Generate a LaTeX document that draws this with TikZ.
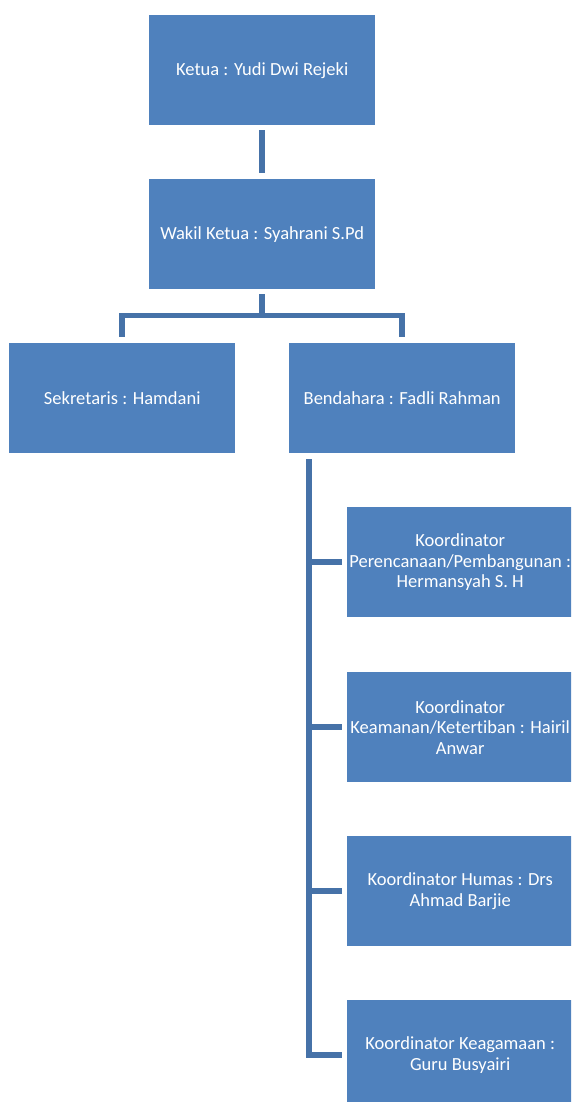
\documentclass[tikz,border=0pt]{standalone}
\usepackage{fontspec}
\setmainfont{Carlito}[Ligatures=CommonOff]
\definecolor{boxblue}{RGB}{79,129,189}
\definecolor{lineblue}{RGB}{70,114,168}
\tikzset{
    jabatan/.style={rectangle,fill=boxblue,text=white,minimum width=226pt,minimum height=110pt,
        inner sep=0pt,align=center,anchor=north west,font=\fontsize{18.5}{20.5}\selectfont},
    garis/.style={draw=lineblue,line width=5.5pt}
}
\begin{document}
\begin{tikzpicture}[x=1pt,y=-1pt]
    \useasboundingbox (0,0) rectangle (571,1102);
    \clip (0,0) rectangle (571,1102);

    \node[jabatan] (ketua) at (149,15) {Ketua : Yudi Dwi Rejeki};
    \node[jabatan] (wakil) at (149,179) {Wakil Ketua : Syahrani S.Pd};
    \node[jabatan] (sekretaris) at (9,343) {Sekretaris : Hamdani};
    \node[jabatan] (bendahara) at (289,343) {Bendahara : Fadli Rahman};
    \node[jabatan] (pembangunan) at (347,507) {Koordinator\\Perencanaan/Pembangunan :\\Hermansyah S. H};
    \node[jabatan] (keamanan) at (347,672) {Koordinator\\Keamanan/Ketertiban : Hairil\\Anwar};
    \node[jabatan] (humas) at (347,836) {Koordinator Humas : Drs\\Ahmad Barjie};
    \node[jabatan] (keagamaan) at (347,1000) {Koordinator Keagamaan :\\Guru Busyairi};

    \draw[garis] (ketua.south) ++(0,5) -- ([yshift=6pt]wakil.north);
    \draw[garis] (wakil.south) ++(0,5) -- ++(0,21) -| ([yshift=6pt]sekretaris.north);
    \draw[garis] (wakil.south) ++(0,5) -- ++(0,21) -| ([yshift=6pt]bendahara.north);

    \coordinate (batang) at ([xshift=20pt,yshift=-6pt]bendahara.south west);
    \foreach \k in {pembangunan,keamanan,humas,keagamaan}
        \draw[garis] (batang) |- ([xshift=-5pt]\k.west);
\end{tikzpicture}
\end{document}
